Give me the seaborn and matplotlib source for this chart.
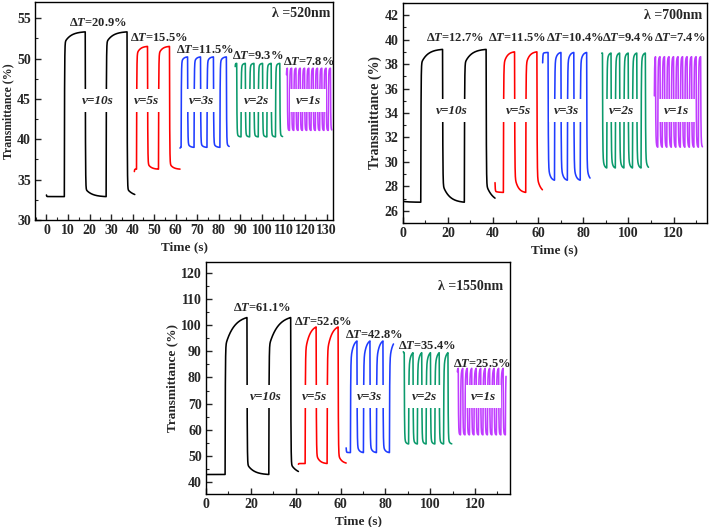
import numpy as np
import pandas as pd
import matplotlib
matplotlib.use("Agg")
import matplotlib.pyplot as plt
from matplotlib.ticker import MultipleLocator
import seaborn as sns

sns.set_style("ticks")
plt.rcParams['font.family'] = ['Liberation Serif', 'DejaVu Serif']
plt.rcParams['font.weight'] = 'bold'
plt.rcParams['mathtext.fontset'] = 'custom'
plt.rcParams['mathtext.it'] = 'Liberation Serif:italic:bold'
plt.rcParams['mathtext.rm'] = 'Liberation Serif:bold'

# switching speeds, same in every panel
segments = ['v=10s', 'v=5s', 'v=3s', 'v=2s', 'v=1s']
seg_colors = ['#000000', '#ff0000', '#1f3cff', '#0b9a6c', '#c03cff']

# --- 520 nm ---
p520_start = [0.0, 40.8, 62.0, 87.6, 111.4]
p520_end = [41.0, 62.0, 84.8, 109.6, 132.4]
p520_first_switch = [8.3, 41.8, 62.5, 88.3, 111.8]
p520_half = [9.7, 5.1, 3.0, 2.0, 1.0]
p520_v0 = [33.1, 36.0, 38.9, 49.0, 48.0]
p520_start_high = [False, False, False, True, True]
p520_hi = [53.3, 51.5, 50.2, 49.4, 48.8]
p520_lo = [32.9, 36.3, 39.0, 40.3, 41.1]
p520_dT = ['20.9', '15.5', '11.5', '9.3', '7.8']

# --- 700 nm ---
p700_start = [0.0, 40.9, 62.0, 88.2, 111.5]
p700_end = [40.9, 61.9, 83.0, 108.9, 132.8]
p700_first_switch = [8.0, 44.6, 64.4, 88.5, 112.0]
p700_half = [9.65, 4.95, 2.85, 1.9, 1.0]
p700_v0 = [27.3, 28.3, 38.1, 38.9, 35.4]
p700_start_high = [False, False, True, True, True]
p700_hi = [39.2, 39.0, 38.95, 38.9, 38.6]
p700_lo = [26.7, 27.5, 28.5, 29.5, 31.2]
p700_dT = ['12.7', '11.5', '10.4', '9.4', '7.4']

# --- 1550 nm ---
p1550_start = [0.0, 41.2, 62.5, 88.0, 112.1]
p1550_end = [41.2, 62.5, 83.6, 109.6, 133.8]
p1550_first_switch = [8.5, 44.2, 64.4, 88.4, 112.5]
p1550_half = [9.75, 4.9, 2.9, 1.95, 1.0]
p1550_v0 = [42.5, 46.7, 53.0, 89.9, 82.2]
p1550_start_high = [False, False, False, True, True]
p1550_hi = [103.0, 99.4, 94.0, 89.5, 83.5]
p1550_lo = [42.8, 47.0, 51.2, 54.5, 58.0]
p1550_dT = ['61.1', '52.6', '42.8', '35.4', '25.5']


def wave(t0, t1, first, half, v0, high, hi, lo, rise, fall):
    # response of the film to on/off switching between the read plateau levels
    edges = [t0] + list(np.arange(first, t1, half)) + [t1]
    ts, vs = [], []
    v = v0
    state = high
    n = len(edges) - 1
    for i in range(n):
        a, b = edges[i], edges[i + 1]
        target = hi if state else lo
        f, tf, ks = rise if state else fall
        tsl = ks * half
        g = lambda s: f * (1 - np.exp(-s / tf)) + (1 - f) * (1 - np.exp(-s / tsl))
        d = b - a
        norm = d if (i == 0 or i < n - 1) else max(d, half)
        s = np.linspace(0, d, max(int(d / 0.02), 3))
        vals = v + (target - v) * g(s) / g(norm)
        ts.extend(a + s)
        vs.extend(vals)
        v = vals[-1]
        state = not state
    return ts, vs


def build(start, end, first, half, v0, high, hi, lo, rise, fall):
    rows = []
    for k, name in enumerate(segments):
        ts, vs = wave(start[k], end[k], first[k], half[k], v0[k], high[k],
                      hi[k], lo[k], rise, fall)
        rows.append(pd.DataFrame({'Time': ts, 'T': vs, 'seg': name}))
    return pd.concat(rows, ignore_index=True)


df520 = build(p520_start, p520_end, p520_first_switch, p520_half, p520_v0,
              p520_start_high, p520_hi, p520_lo, (0.93, 0.1, 0.3), (0.95, 0.1, 0.3))
df700 = build(p700_start, p700_end, p700_first_switch, p700_half, p700_v0,
              p700_start_high, p700_hi, p700_lo, (0.9, 0.1, 0.3), (0.88, 0.1, 0.3))
df1550 = build(p1550_start, p1550_end, p1550_first_switch, p1550_half, p1550_v0,
               p1550_start_high, p1550_hi, p1550_lo, (0.8, 0.1, 0.4), (0.93, 0.1, 0.3))

fig = plt.figure(figsize=(7.09, 5.27), dpi=100)

panels = [
    dict(df=df520, rect=[0.0494, 0.5825, 0.4203, 0.4137], xlim=(-5.3, 133), ylim=(30, 57),
         xt=(10, 5), yt=(5, 2.5), lam='λ =520nm', dT=p520_dT, lab=8.5,
         dT_pos=[(24, 54.4, 'center'), (38.7, 52.6, 'left'), (60, 51.1, 'left'),
                 (86, 50.3, 'left'), (110, 49.6, 'left')],
         v_pos=[24, 46.4, 72, 97.5, 121.5], v_y=44.8, lam_pos=(131.6, 55.6)),
    dict(df=df700, rect=[0.568, 0.5769, 0.4288, 0.4175], xlim=(0, 134.7), ylim=(25, 43),
         xt=(20, 10), yt=(2, 1), lam='λ =700nm', dT=p700_dT, lab=10,
         dT_pos=[(23.2, 40.1, 'center'), (38.0, 40.1, 'left'), (63.4, 40.1, 'left'),
                 (88.5, 40.1, 'left'), (111.5, 40.1, 'left')],
         v_pos=[21.7, 51.3, 72.7, 97, 121.4], v_y=34.2, lam_pos=(132.5, 42.0)),
    dict(df=df1550, rect=[0.2906, 0.0626, 0.4288, 0.4402], xlim=(0, 135.6), ylim=(35.3, 124.3),
         xt=(20, 10), yt=(10, 5), lam='λ =1550nm', dT=p1550_dT, lab=9.5,
         dT_pos=[(24.8, 106.6, 'center'), (39.3, 101.4, 'left'), (62, 96.3, 'left'),
                 (85.5, 92.2, 'left'), (110, 85.0, 'left')],
         v_pos=[26.8, 48.2, 72.9, 97.4, 123.7], v_y=72.7, lam_pos=(132.6, 114.9)),
]

for p in panels:
    ax = fig.add_axes(p['rect'])
    sns.lineplot(data=p['df'], x='Time', y='T', hue='seg', palette=seg_colors,
                 hue_order=segments, estimator=None, sort=False, legend=False,
                 lw=1.15, ax=ax)
    ax.set_xlim(*p['xlim'])
    ax.set_ylim(*p['ylim'])
    ax.xaxis.set_major_locator(MultipleLocator(p['xt'][0]))
    ax.xaxis.set_minor_locator(MultipleLocator(p['xt'][1]))
    ax.yaxis.set_major_locator(MultipleLocator(p['yt'][0]))
    ax.yaxis.set_minor_locator(MultipleLocator(p['yt'][1]))
    ax.tick_params(which='both', direction='in', labelsize=10, pad=3)
    ax.tick_params(which='major', length=4, width=1)
    ax.tick_params(which='minor', length=2, width=0.8)
    for sp in ax.spines.values():
        sp.set_linewidth(1.0)
        sp.set_color('black')
    ax.set_xlabel('Time (s)', fontsize=9.5, fontweight='bold', labelpad=3)
    ax.set_ylabel('Transmittance (%)', fontsize=p['lab'], fontweight='bold', labelpad=2)

    for (x, y, ha), val in zip(p['dT_pos'], p['dT']):
        ax.text(x, y, 'Δ$\\mathit{T}$=' + val + '%', ha=ha, va='center',
                fontsize=9, fontweight='bold')
    for x, name in zip(p['v_pos'], segments):
        ax.text(x, p['v_y'], name, ha='center', va='center', fontsize=9.5,
                fontweight='bold', fontstyle='italic',
                bbox=dict(boxstyle='square,pad=0.4', fc='white', ec='none'))
    ax.text(p['lam_pos'][0], p['lam_pos'][1], p['lam'], ha='right', va='center',
            fontsize=10, fontweight='bold')

fig.savefig('out.png', dpi=100)
